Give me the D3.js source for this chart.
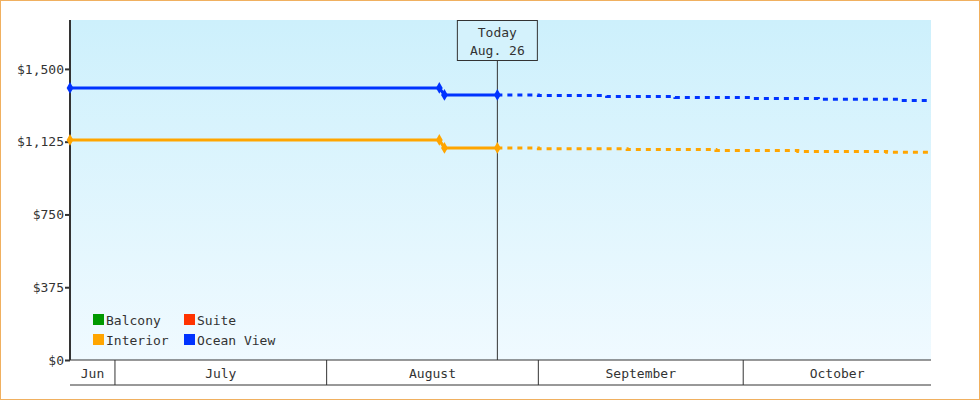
<!DOCTYPE html><html><head><meta charset="utf-8">
<script src="https://cdn.jsdelivr.net/npm/d3@7"></script>
<style>body{margin:0}svg{display:block}text{font-family:"DejaVu Sans Mono",monospace;font-size:13px;fill:#333}</style></head><body>
<svg id="c" width="980" height="400"></svg>
<script>
const series = ["Balcony","Suite","Interior","Ocean View"];
const colors = ["#009900","#ff3300","#ffa500","#0033ff"];
const yTicks = [0,375,750,1125,1500];
const months = [["Jun","2023-06-24T10:00"],["July","2023-07-01"],["August","2023-08-01"],["September","2023-09-01"],["October","2023-10-01"]];
const oceanHist = [["2023-06-24T10:00",1402],["2023-08-17T12:00",1402],["2023-08-18T06:00",1366],["2023-08-26",1366]];
const oceanFcst = [["2023-08-26",1366],["2023-09-01",1363],["2023-09-11",1358],["2023-09-21",1353],["2023-10-02",1348],["2023-10-12",1343],["2023-10-24",1337],["2023-10-28T12:00",1337]];
const intHist = [["2023-06-24T10:00",1134],["2023-08-17T12:00",1134],["2023-08-18T06:00",1093],["2023-08-26",1093]];
const intFcst = [["2023-08-26",1093],["2023-09-01",1089],["2023-09-14",1085],["2023-09-27",1080],["2023-10-09",1075],["2023-10-22",1070],["2023-10-28T12:00",1070]];
const today = "2023-08-26";

const svg = d3.select("#c");
svg.append("rect").attr("x",0.5).attr("y",0.5).attr("width",979).attr("height",399).attr("fill","#fff").attr("stroke","#f0b060");
const L=70,R=931,T=20,B=360;
const x = d3.scaleTime().domain([new Date("2023-06-24T10:00"),new Date("2023-10-28T12:00")]).range([L,R]);
const y = d3.scaleLinear().domain([0,1752]).range([B,T]);
const defs=svg.append("defs");
const g=defs.append("linearGradient").attr("id","bg").attr("x1",0).attr("y1",0).attr("x2",0).attr("y2",1);
g.append("stop").attr("offset","0").attr("stop-color","#cdf0fc");
g.append("stop").attr("offset","1").attr("stop-color","#f0faff");
svg.append("rect").attr("x",L).attr("y",T).attr("width",R-L).attr("height",B-T).attr("fill","url(#bg)");
// y axis
const ya=svg.append("g").attr("transform",`translate(${L},0)`).call(d3.axisLeft(y).tickValues(yTicks).tickSize(5).tickFormat(d=>"$"+d3.format(",")(d)));
ya.select(".domain").remove();
ya.selectAll("line").attr("stroke","#333").attr("stroke-width",2);
ya.selectAll("text").attr("x",-6).style("font-size","13px");
svg.append("line").attr("x1",L).attr("x2",L).attr("y1",T).attr("y2",B).attr("stroke","#333").attr("stroke-width",2);
// x month bands
const md=months.map(m=>new Date(m[1]));
svg.append("line").attr("x1",L).attr("x2",R).attr("y1",B).attr("y2",B).attr("stroke","#333");
svg.append("line").attr("x1",L).attr("x2",R).attr("y1",385).attr("y2",385).attr("stroke","#333");
months.forEach((m,i)=>{
  const x0=x(md[i]), x1=i<months.length-1?x(md[i+1]):R;
  if(i>0) svg.append("line").attr("x1",x0).attr("x2",x0).attr("y1",B).attr("y2",385).attr("stroke","#333");
  svg.append("text").attr("x",(x0+x1)/2).attr("y",378).attr("text-anchor","middle").text(m[0]);
});
// today
const tx=x(new Date(today));
svg.append("line").attr("x1",tx).attr("x2",tx).attr("y1",60).attr("y2",B).attr("stroke","#333");
svg.append("rect").attr("x",tx-40).attr("y",20.5).attr("width",80).attr("height",40).attr("fill","#d4f2fc").attr("stroke","#333");
svg.append("text").attr("x",tx).attr("y",37).attr("text-anchor","middle").text("Today");
svg.append("text").attr("x",tx).attr("y",55).attr("text-anchor","middle").text("Aug. 26");
// lines
const line=d3.line().x(d=>x(new Date(d[0]))).y(d=>y(d[1]));
const stepLine=d3.line().curve(d3.curveStepAfter).x(d=>x(new Date(d[0]))).y(d=>y(d[1]));
[[oceanHist,oceanFcst,colors[3]],[intHist,intFcst,colors[2]]].forEach(([h,f,c])=>{
  svg.append("path").attr("d",line(h)).attr("fill","none").attr("stroke",c).attr("stroke-width",3);
  svg.append("path").attr("d",stepLine(f)).attr("fill","none").attr("stroke",c).attr("stroke-width",3).attr("stroke-dasharray","5,5");
  svg.selectAll(null).data(h).enter().append("path").attr("d",d3.symbol(d3.symbolDiamond,40)()).attr("transform",d=>`translate(${x(new Date(d[0]))},${y(d[1])})`).attr("fill",c);
});
// legend
series.forEach((s,i)=>{
  const lx=93+(i%2)*91, ly=314+Math.floor(i/2)*20;
  svg.append("rect").attr("x",lx).attr("y",ly).attr("width",11).attr("height",11).attr("fill",colors[i]);
  svg.append("text").attr("x",lx+13).attr("y",ly+10.5).text(s);
});
</script></body></html>
